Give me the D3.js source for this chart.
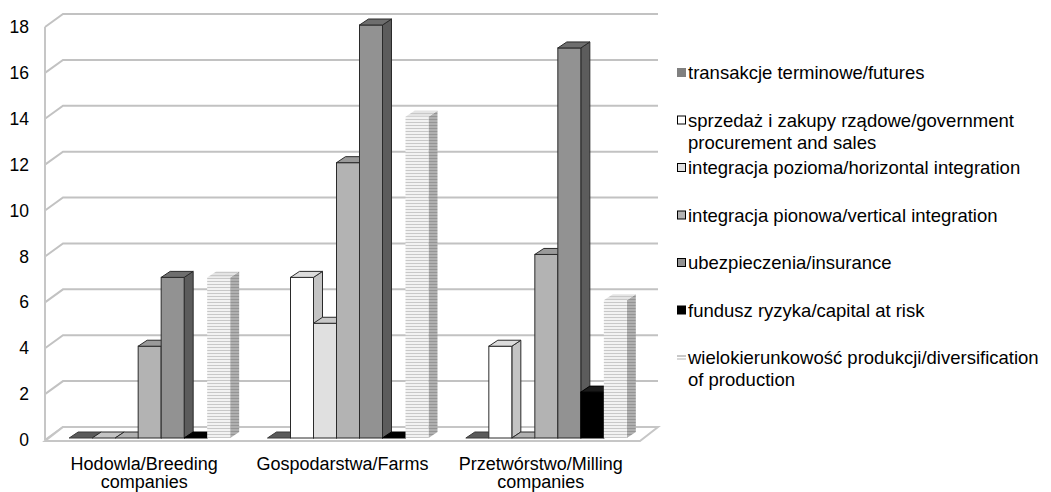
<!DOCTYPE html>
<html>
<head>
<meta charset="utf-8">
<script src="https://cdn.jsdelivr.net/npm/d3@7"></script>
<style>
  html, body { margin: 0; padding: 0; background: #fff; }
  svg { display: block; font-family: "Liberation Sans", Arial, sans-serif; }
</style>
</head>
<body>
<svg id="chart" width="1051" height="492"></svg>
<script>
// Categories (each label split into two lines where it wraps)
const categories = ["Hodowla/Breeding\ncompanies", "Gospodarstwa/Farms", "Przetwórstwo/Milling\ncompanies"];

// Series names (legend order = bar order within a group)
const seriesNames = [
  "transakcje terminowe/futures",
  "sprzedaż i zakupy rządowe/government\nprocurement and sales",
  "integracja pozioma/horizontal integration",
  "integracja pionowa/vertical integration",
  "ubezpieczenia/insurance",
  "fundusz ryzyka/capital at risk",
  "wielokierunkowość produkcji/diversification\nof production"
];

// Values per series, one per category
const futures      = [0, 0, 0];
const government   = [0, 7, 4];
const horizontal   = [0, 5, 0];
const vertical     = [4, 12, 8];
const insurance    = [7, 18, 17];
const capitalRisk  = [0, 0, 2];
const diversify    = [7, 14, 6];

const yTicks = [0, 2, 4, 6, 8, 10, 12, 14, 16, 18];

const seriesValues = [futures, government, horizontal, vertical, insurance, capitalRisk, diversify];

// Face colours per series: front, side, top
const palette = [
  { front: "#808080", side: "#5a5a5a", top: "#5e5e5e", stroke: "#3a3a3a" },
  { front: "#ffffff", side: "#c4c4c4", top: "#dcdcdc", stroke: "#2a2a2a" },
  { front: "#e0e0e0", side: "#b0b0b0", top: "#c8c8c8", stroke: "#2a2a2a" },
  { front: "#b3b3b3", side: "#8a8a8a", top: "#9a9a9a", stroke: "#2a2a2a" },
  { front: "#929292", side: "#5c5c5c", top: "#6e6e6e", stroke: "#2a2a2a" },
  { front: "#000000", side: "#000000", top: "#1a1a1a", stroke: "#000000" },
  { front: "url(#stripeFront)", side: "url(#stripeSide)", top: "url(#stripeTop)", stroke: "none" }
];

const svg = d3.select("#chart");

// Stripe patterns for the diversification series
const defs = svg.append("defs");
function stripes(id, base, line) {
  const p = defs.append("pattern").attr("id", id)
    .attr("patternUnits", "userSpaceOnUse").attr("width", 6).attr("height", 3);
  p.append("rect").attr("width", 6).attr("height", 3).attr("fill", base);
  p.append("rect").attr("y", 2).attr("width", 6).attr("height", 1).attr("fill", line);
}
stripes("stripeFront", "#f2f2f2", "#c8c8c8");
stripes("stripeSide", "#b0b0b0", "#949494");
stripes("stripeTop", "#e4e4e4", "#c8c8c8");

// Plot geometry
const plotLeft = 45, plotRight = 640;
const wallDx = 18, wallDy = -13;     // depth of walls/floor
const barDx = 9, barDy = -6;         // depth of each bar
const barW = 23;

const y = d3.scaleLinear().domain([0, 18]).range([440, 27]);
const x0 = d3.scaleBand().domain(d3.range(categories.length)).range([plotLeft, plotRight]);
const groupW = barW * seriesNames.length;
const x1 = d3.scaleBand().domain(d3.range(seriesNames.length)).range([0, groupW]).padding(0);

// Back wall gridlines with their diagonal returns on the side wall
const grid = svg.append("g");
grid.selectAll("polyline").data(yTicks).join("polyline")
  .attr("points", d => [[plotLeft, y(d)], [plotLeft + wallDx, y(d) + wallDy], [plotRight + wallDx, y(d) + wallDy]].join(" "))
  .attr("fill", "none").attr("stroke", "#c2c2c2").attr("stroke-width", 2);
grid.append("line")
  .attr("x1", plotLeft).attr("x2", plotLeft).attr("y1", y(0)).attr("y2", y(18))
  .attr("stroke", "#c6c6c6").attr("stroke-width", 2);

// Floor
svg.append("polygon")
  .attr("points", [[plotLeft, y(0) + 1], [plotRight, y(0) + 1], [plotRight + wallDx, y(0) + wallDy], [plotLeft + wallDx, y(0) + wallDy]].join(" "))
  .attr("fill", "#fff").attr("stroke", "#c6c6c6").attr("stroke-width", 2);

// Axis labels
svg.append("g").selectAll("text").data(yTicks).join("text")
  .attr("x", 29).attr("y", d => y(d)).attr("dy", "0.35em")
  .attr("text-anchor", "end").attr("font-size", 17.5).attr("fill", "#000")
  .text(d => d);

// Bars
const barBaseOffset = { dx: 2, dy: -2 };
const bars = svg.append("g");
categories.forEach((c, ci) => {
  const gx = x0(ci) + (x0.bandwidth() - groupW) / 2 + 5.5;
  seriesValues.forEach((vals, si) => {
    const v = vals[ci];
    const col = palette[si];
    const xl = gx + x1(si);
    const xr = xl + x1.bandwidth();
    const yb = y(0) + barBaseOffset.dy;
    const yt = y(v) + barBaseOffset.dy;
    const g = bars.append("g");
    const sw = col.stroke === "none" ? 0 : 1;
    if (v > 0) {
      g.append("polygon")
        .attr("points", [[xr, yt], [xr + barDx, yt + barDy], [xr + barDx, yb + barDy], [xr, yb]].join(" "))
        .attr("fill", col.side).attr("stroke", col.stroke).attr("stroke-width", sw);
      g.append("rect").attr("x", xl).attr("y", yt).attr("width", xr - xl).attr("height", yb - yt)
        .attr("fill", col.front).attr("stroke", col.stroke).attr("stroke-width", sw);
    }
    g.append("polygon")
      .attr("points", [[xl, yt], [xr, yt], [xr + barDx, yt + barDy], [xl + barDx, yt + barDy]].join(" "))
      .attr("fill", v > 0 ? col.top : col.side).attr("stroke", col.stroke).attr("stroke-width", sw);
  });
});

// Category labels
const catG = svg.append("g");
categories.forEach((c, ci) => {
  const cx = x0(ci) + x0.bandwidth() / 2;
  const t = catG.append("text")
    .attr("x", cx).attr("y", 470)
    .attr("text-anchor", "middle").attr("font-size", 18).attr("fill", "#000");
  c.split("\n").forEach((line, li) => {
    t.append("tspan").attr("x", cx).attr("dy", li === 0 ? 0 : 18).text(line);
  });
});

// Legend
const legend = svg.append("g");
const legX = 677, legTop = 73, legStep = 47.5;
const legendMarks = ["#808080", "#ffffff", "#e0e0e0", "#b3b3b3", "#929292", "#000000", null];
seriesNames.forEach((name, i) => {
  const cy = legTop + i * legStep;
  if (legendMarks[i] === null) {
    legend.append("rect").attr("x", legX).attr("y", cy - 3).attr("width", 9).attr("height", 2).attr("fill", "#c8c8c8");
    legend.append("rect").attr("x", legX).attr("y", cy).attr("width", 9).attr("height", 2).attr("fill", "#d8d8d8");
  } else if (i === 0) {
    legend.append("rect").attr("x", legX).attr("y", cy - 5).attr("width", 9).attr("height", 9).attr("fill", legendMarks[i]);
  } else {
    legend.append("rect").attr("x", legX + 0.5).attr("y", cy - 4.5).attr("width", 8).attr("height", 8)
      .attr("fill", legendMarks[i]).attr("stroke", "#000").attr("stroke-width", 1);
  }
  const t = legend.append("text").attr("x", legX + 11).attr("y", cy).attr("dy", "0.35em")
    .attr("font-size", 18.5).attr("fill", "#000");
  name.split("\n").forEach((line, li) => {
    t.append("tspan").attr("x", legX + 11).attr("dy", li === 0 ? "0.35em" : 22).text(line);
  });
});
</script>
</body>
</html>
